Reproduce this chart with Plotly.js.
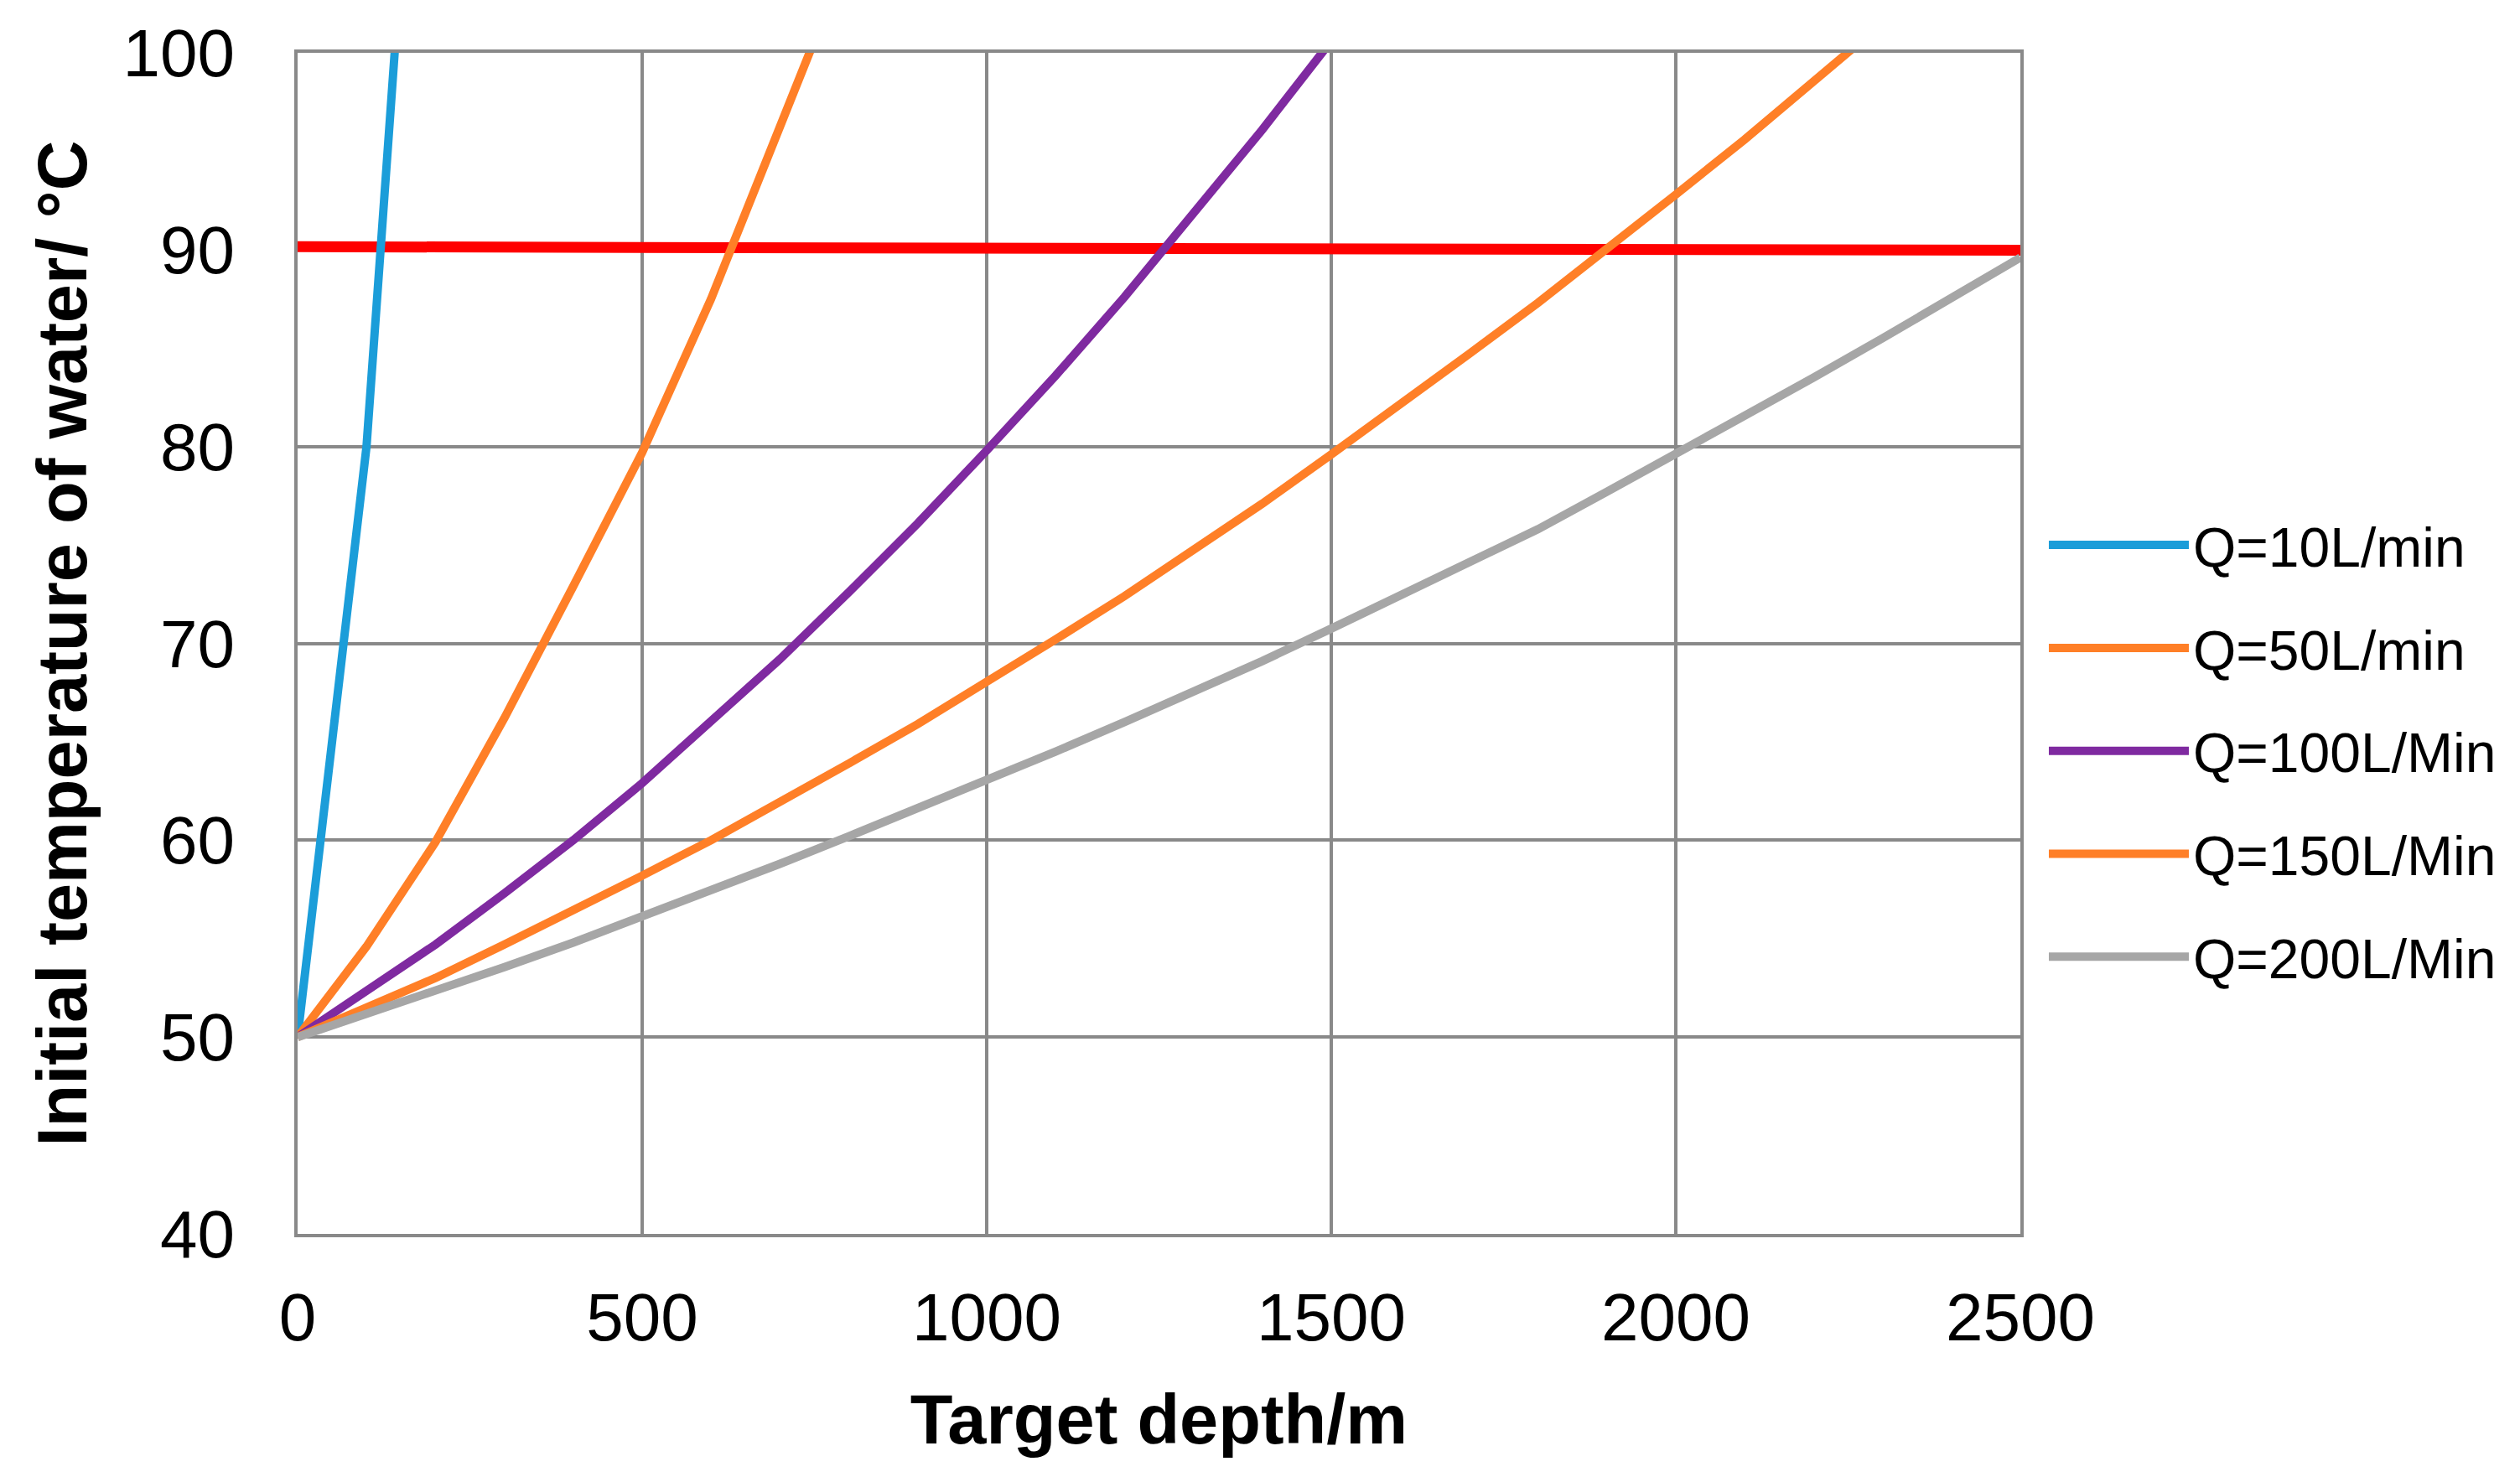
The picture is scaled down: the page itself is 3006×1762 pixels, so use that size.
<!DOCTYPE html>
<html>
<head>
<meta charset="utf-8">
<script src="https://cdn.plot.ly/plotly-3.0.1.min.js"></script>
<style>html,body{margin:0;padding:0;background:#fff;}#chart{width:3006px;height:1762px;}</style>
</head>
<body>
<div id="chart"></div>
<script>
// Depths (m) and initial water temperatures (°C)
const depthQ10 = [0, 100, 200];
const tempQ10 = [50, 80, 129];

const depthQ50 = [0, 100, 200, 300, 400, 500, 600, 700, 800];
const tempQ50 = [50, 54.6, 59.9, 66.2, 72.9, 79.7, 87.5, 96.0, 105.0];

const depthQ100 = [0, 100, 200, 300, 400, 500, 600, 700, 800, 900, 1000, 1100, 1200, 1300, 1400, 1500];
const tempQ100 = [50, 52.3, 54.7, 57.3, 60.0, 62.9, 66.0, 69.2, 72.6, 76.1, 79.8, 83.6, 87.6, 91.8, 96.1, 100.6];

const depthQ150 = [0, 100, 200, 300, 400, 500, 600, 700, 800, 900, 1000, 1100, 1200, 1300, 1400, 1500, 1600, 1700, 1800, 1900, 2000, 2100, 2200, 2300];
const tempQ150 = [50, 51.5, 53.0, 54.7, 56.4, 58.2, 60.0, 61.9, 63.9, 65.9, 68.0, 70.2, 72.4, 74.7, 77.1, 79.6, 82.1, 84.7, 87.3, 90.0, 92.8, 95.6, 98.5, 101.5];

const depthQ200 = [0, 100, 200, 300, 400, 500, 600, 700, 800, 900, 1000, 1100, 1200, 1300, 1400, 1500, 1600, 1700, 1800, 1900, 2000, 2100, 2200, 2300, 2400, 2500];
const tempQ200 = [50, 51.15, 52.35, 53.55, 54.8, 56.1, 57.45, 58.8, 60.2, 61.6, 63.0, 64.5, 66.0, 67.5, 69.1, 70.75, 72.4, 74.1, 75.8, 77.7, 79.6, 81.5, 83.5, 85.5, 87.5, 89.6];

const limitDepth = [0, 2500];
const limitTemp = [90.15, 89.97];

const seriesNames = ['Q=10L/min', 'Q=50L/min', 'Q=100L/Min', 'Q=150L/Min', 'Q=200L/Min'];
const seriesColors = ['#1B9DD9', '#FF7F27', '#7F2AA0', '#FF7F27', '#A6A6A6'];

const xTickVals = [0, 500, 1000, 1500, 2000, 2500];
const yTickVals = [40, 50, 60, 70, 80, 90, 100];

const depths = [depthQ10, depthQ50, depthQ100, depthQ150, depthQ200];
const temps = [tempQ10, tempQ50, tempQ100, tempQ150, tempQ200];

const FONT = 'Liberation Sans, Arial, sans-serif';

const traces = [{
  x: limitDepth, y: limitTemp, mode: 'lines', showlegend: false,
  line: {color: '#FF0000', width: 13}, hoverinfo: 'skip'
}];
for (let i = 0; i < seriesNames.length; i++) {
  traces.push({
    x: depths[i], y: temps[i], mode: 'lines', name: seriesNames[i],
    legendgroup: 'g' + i,
    line: {color: seriesColors[i], width: 10}
  });
}

const axisCommon = {
  showgrid: true, gridcolor: '#898989', gridwidth: 4,
  showline: true, linecolor: '#898989', linewidth: 4, mirror: true,
  zeroline: false, ticks: '',
  tickfont: {family: FONT, size: 80, color: '#000'}
};

const layout = {
  width: 3006, height: 1762,
  margin: {l: 355, r: 596, t: 63, b: 290, pad: 0},
  paper_bgcolor: '#fff', plot_bgcolor: '#fff',
  font: {family: FONT, color: '#000'},
  xaxis: Object.assign({}, axisCommon, {
    range: [0, 2500], tickvals: xTickVals, ticktext: xTickVals.map(String),
    ticklabelstandoff: 27,
    title: {text: 'Target depth/m', font: {family: FONT, size: 83, weight: 'bold', color: '#000'}, standoff: 50}
  }),
  yaxis: Object.assign({}, axisCommon, {
    range: [40, 100], tickvals: yTickVals, ticktext: yTickVals.map(String),
    ticklabelstandoff: 55,
    title: {text: 'Initial temperature of water/ °C', font: {family: FONT, size: 83, weight: 'bold', color: '#000'}, standoff: 16}
  }),
  legend: {
    x: 1.0141, xanchor: 'left', y: 0.409, yanchor: 'middle',
    font: {family: FONT, size: 66, color: '#000'},
    itemwidth: 167, tracegroupgap: 34, bgcolor: 'rgba(0,0,0,0)'
  },
  showlegend: true
};

Plotly.newPlot('chart', traces, layout, {staticPlot: true});
</script>
</body>
</html>
